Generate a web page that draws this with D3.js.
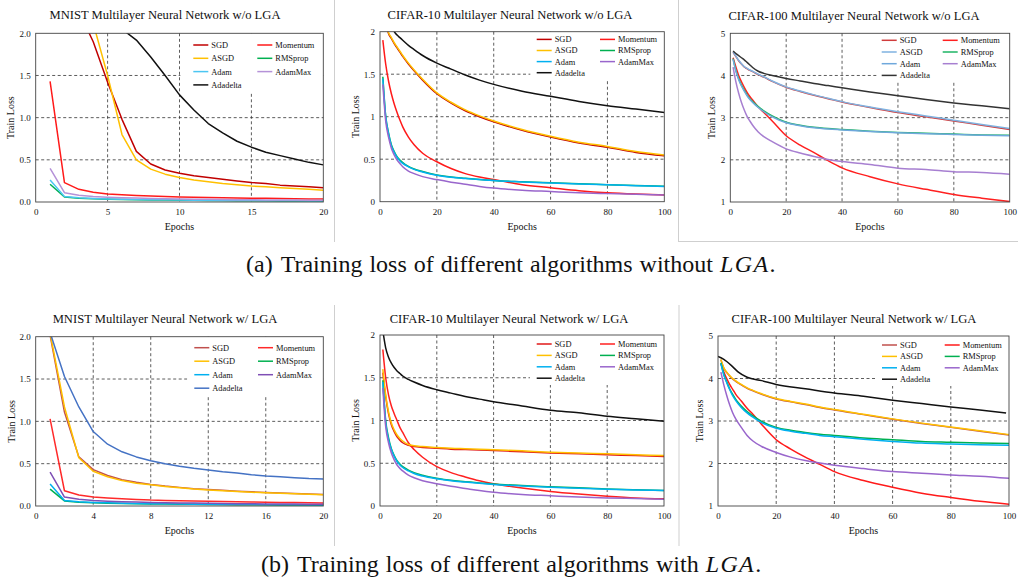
<!DOCTYPE html>
<html lang="en">
<head>
<meta charset="UTF-8">
<title>Training loss with and without LGA</title>
<style>
  body { margin: 0; background: #fff; }
  svg text { font-family: "Liberation Serif", "Times New Roman", serif; fill: #111; white-space: pre; }
</style>
</head>
<body>
<svg id="chart" width="1018" height="577"></svg>
<script src="https://d3js.org/d3.v7.min.js"></script>
<script>
// ---- data ----
const seriesNames = ["SGD", "Momentum", "ASGD", "RMSprop", "Adam", "AdamMax", "Adadelta"];

const mnistEpochs = [1, 2, 3, 4, 5, 6, 7, 8, 9, 10, 11, 12, 13, 14, 15, 16, 17, 18, 19, 20];
const cifarEpochs = [1, 2, 3, 4, 5, 6, 7, 8, 10, 12, 15, 20, 25, 30, 35, 40, 50, 60, 70, 80, 90, 100];
const c100LgaAdadeltaEpochs = [0, 2, 3, 5, 7, 10, 15, 20, 30, 40, 50, 60, 70, 80, 90, 99];

const mnistTicksA = [0, 5, 10, 15, 20];
const mnistTicksB = [0, 4, 8, 12, 16, 20];
const cifarTicks = [0, 20, 40, 60, 80, 100];
const lossTicks2 = [0, 0.5, 1, 1.5, 2];
const lossTicks5 = [1, 2, 3, 4, 5];

// (a) MNIST without LGA
const mnistNoLga = {
  SGD:      [2.30, 2.29, 2.26, 1.90, 1.42, 0.98, 0.60, 0.45, 0.38, 0.34, 0.31, 0.29, 0.27, 0.25, 0.23, 0.22, 0.20, 0.19, 0.18, 0.17],
  Momentum: [1.43, 0.23, 0.15, 0.115, 0.095, 0.085, 0.077, 0.07, 0.065, 0.06, 0.056, 0.052, 0.05, 0.047, 0.045, 0.043, 0.041, 0.039, 0.037, 0.035],
  ASGD:     [2.30, 2.30, 2.29, 2.12, 1.50, 0.80, 0.50, 0.39, 0.33, 0.29, 0.26, 0.24, 0.22, 0.205, 0.19, 0.18, 0.17, 0.16, 0.15, 0.14],
  RMSprop:  [0.21, 0.06, 0.045, 0.038, 0.033, 0.03, 0.027, 0.025, 0.023, 0.021, 0.02, 0.018, 0.017, 0.016, 0.015, 0.014, 0.013, 0.012, 0.011, 0.01],
  Adam:     [0.26, 0.065, 0.05, 0.042, 0.037, 0.033, 0.03, 0.028, 0.026, 0.024, 0.022, 0.021, 0.019, 0.018, 0.017, 0.016, 0.015, 0.014, 0.013, 0.012],
  AdamMax:  [0.40, 0.11, 0.08, 0.065, 0.056, 0.05, 0.046, 0.042, 0.039, 0.036, 0.034, 0.032, 0.03, 0.028, 0.027, 0.025, 0.024, 0.023, 0.021, 0.02],
  Adadelta: [2.30, 2.30, 2.29, 2.27, 2.20, 2.05, 1.92, 1.72, 1.50, 1.27, 1.09, 0.93, 0.82, 0.72, 0.65, 0.59, 0.55, 0.51, 0.47, 0.44]
};

// (a) CIFAR-10 without LGA
const c10NoLga = {
  SGD:      [2.29, 2.11, 1.98, 1.92, 1.86, 1.81, 1.76, 1.71, 1.62, 1.54, 1.43, 1.27, 1.16, 1.07, 1.00, 0.94, 0.84, 0.76, 0.69, 0.64, 0.58, 0.54],
  Momentum: [1.90, 1.62, 1.42, 1.27, 1.15, 1.05, 0.96, 0.88, 0.76, 0.67, 0.57, 0.47, 0.39, 0.33, 0.29, 0.26, 0.20, 0.165, 0.13, 0.105, 0.09, 0.08],
  ASGD:     [2.30, 2.12, 1.99, 1.93, 1.87, 1.82, 1.77, 1.72, 1.63, 1.55, 1.44, 1.28, 1.17, 1.08, 1.01, 0.95, 0.85, 0.77, 0.70, 0.65, 0.59, 0.55],
  RMSprop:  [1.47, 1.01, 0.81, 0.67, 0.59, 0.53, 0.49, 0.46, 0.415, 0.385, 0.355, 0.315, 0.29, 0.275, 0.262, 0.25, 0.235, 0.222, 0.21, 0.2, 0.19, 0.182],
  Adam:     [1.45, 1.00, 0.80, 0.66, 0.58, 0.52, 0.48, 0.45, 0.41, 0.38, 0.35, 0.31, 0.287, 0.272, 0.26, 0.248, 0.233, 0.22, 0.208, 0.198, 0.189, 0.18],
  AdamMax:  [1.38, 0.95, 0.76, 0.63, 0.55, 0.49, 0.45, 0.41, 0.36, 0.33, 0.295, 0.26, 0.23, 0.205, 0.18, 0.16, 0.135, 0.12, 0.105, 0.095, 0.087, 0.08],
  Adadelta: [2.30, 2.22, 2.14, 2.07, 2.00, 1.96, 1.93, 1.90, 1.84, 1.79, 1.72, 1.63, 1.56, 1.49, 1.43, 1.38, 1.30, 1.24, 1.18, 1.13, 1.09, 1.05]
};

// (a) CIFAR-100 without LGA
const c100NoLga = {
  SGD:      [4.55, 4.45, 4.35, 4.27, 4.20, 4.16, 4.12, 4.09, 4.02, 3.96, 3.86, 3.72, 3.62, 3.53, 3.45, 3.37, 3.24, 3.12, 3.02, 2.92, 2.82, 2.72],
  Momentum: [4.42, 4.20, 4.00, 3.85, 3.72, 3.60, 3.50, 3.42, 3.25, 3.12, 2.92, 2.57, 2.35, 2.17, 1.98, 1.81, 1.60, 1.43, 1.30, 1.18, 1.09, 1.01],
  ASGD:     [4.56, 4.46, 4.36, 4.28, 4.21, 4.17, 4.13, 4.10, 4.03, 3.97, 3.87, 3.73, 3.63, 3.54, 3.46, 3.38, 3.25, 3.14, 3.04, 2.94, 2.84, 2.74],
  RMSprop:  [4.40, 4.12, 3.92, 3.77, 3.65, 3.54, 3.45, 3.38, 3.26, 3.16, 3.04, 2.89, 2.82, 2.77, 2.74, 2.72, 2.68, 2.65, 2.63, 2.61, 2.59, 2.58],
  Adam:     [4.38, 4.10, 3.90, 3.75, 3.63, 3.52, 3.43, 3.36, 3.24, 3.14, 3.02, 2.88, 2.81, 2.76, 2.73, 2.71, 2.67, 2.64, 2.62, 2.60, 2.58, 2.57],
  AdamMax:  [4.20, 3.85, 3.58, 3.36, 3.18, 3.03, 2.92, 2.82, 2.66, 2.55, 2.43, 2.26, 2.16, 2.08, 2.01, 1.96, 1.89, 1.80, 1.77, 1.72, 1.70, 1.66],
  Adadelta: [4.58, 4.52, 4.47, 4.42, 4.37, 4.31, 4.25, 4.19, 4.10, 4.05, 4.00, 3.93, 3.87, 3.81, 3.76, 3.71, 3.61, 3.52, 3.43, 3.35, 3.28, 3.21]
};

// (b) MNIST with LGA
const mnistLga = {
  SGD:      [2.02, 1.11, 0.58, 0.43, 0.36, 0.31, 0.28, 0.255, 0.235, 0.22, 0.205, 0.195, 0.185, 0.175, 0.167, 0.16, 0.153, 0.147, 0.141, 0.135],
  Momentum: [1.03, 0.18, 0.13, 0.105, 0.095, 0.085, 0.078, 0.07, 0.066, 0.062, 0.058, 0.055, 0.052, 0.05, 0.047, 0.045, 0.042, 0.04, 0.038, 0.035],
  ASGD:     [2.04, 1.17, 0.57, 0.41, 0.345, 0.30, 0.27, 0.25, 0.23, 0.215, 0.20, 0.19, 0.18, 0.171, 0.163, 0.156, 0.15, 0.144, 0.139, 0.134],
  RMSprop:  [0.20, 0.06, 0.045, 0.038, 0.033, 0.03, 0.027, 0.025, 0.023, 0.021, 0.02, 0.018, 0.017, 0.016, 0.015, 0.014, 0.013, 0.012, 0.011, 0.01],
  Adam:     [0.26, 0.065, 0.05, 0.042, 0.037, 0.033, 0.03, 0.028, 0.026, 0.024, 0.022, 0.021, 0.019, 0.018, 0.017, 0.016, 0.015, 0.014, 0.013, 0.012],
  AdamMax:  [0.40, 0.105, 0.08, 0.065, 0.056, 0.05, 0.046, 0.042, 0.039, 0.036, 0.034, 0.032, 0.03, 0.028, 0.027, 0.025, 0.024, 0.023, 0.021, 0.02],
  Adadelta: [2.05, 1.53, 1.17, 0.88, 0.73, 0.64, 0.58, 0.535, 0.50, 0.47, 0.445, 0.425, 0.405, 0.39, 0.37, 0.355, 0.345, 0.335, 0.325, 0.32]
};

// (b) CIFAR-10 with LGA
const c10Lga = {
  SGD:      [1.56, 1.28, 1.08, 0.95, 0.87, 0.81, 0.77, 0.74, 0.71, 0.695, 0.685, 0.675, 0.665, 0.66, 0.655, 0.648, 0.635, 0.62, 0.61, 0.60, 0.59, 0.58],
  Momentum: [1.83, 1.50, 1.30, 1.17, 1.08, 1.00, 0.92, 0.86, 0.74, 0.66, 0.57, 0.46, 0.39, 0.34, 0.295, 0.26, 0.21, 0.17, 0.14, 0.115, 0.095, 0.085],
  ASGD:     [1.60, 1.30, 1.10, 0.97, 0.89, 0.83, 0.79, 0.76, 0.72, 0.705, 0.695, 0.685, 0.675, 0.67, 0.665, 0.658, 0.645, 0.63, 0.62, 0.61, 0.60, 0.59],
  RMSprop:  [1.47, 1.00, 0.80, 0.67, 0.59, 0.53, 0.49, 0.46, 0.42, 0.39, 0.36, 0.325, 0.30, 0.285, 0.27, 0.258, 0.24, 0.225, 0.212, 0.20, 0.19, 0.182],
  Adam:     [1.45, 0.98, 0.78, 0.66, 0.58, 0.52, 0.48, 0.45, 0.41, 0.38, 0.35, 0.318, 0.295, 0.28, 0.265, 0.252, 0.235, 0.22, 0.208, 0.197, 0.188, 0.18],
  AdamMax:  [1.38, 0.93, 0.74, 0.62, 0.54, 0.48, 0.44, 0.41, 0.36, 0.33, 0.295, 0.26, 0.23, 0.205, 0.18, 0.16, 0.135, 0.12, 0.105, 0.095, 0.087, 0.08],
  Adadelta: [2.05, 1.85, 1.74, 1.67, 1.62, 1.58, 1.55, 1.52, 1.48, 1.45, 1.41, 1.36, 1.32, 1.28, 1.25, 1.22, 1.17, 1.12, 1.09, 1.05, 1.02, 0.99]
};

// (b) CIFAR-100 with LGA
const c100Lga = {
  SGD:      [4.44, 4.24, 4.14, 4.06, 3.99, 3.94, 3.89, 3.85, 3.77, 3.71, 3.63, 3.52, 3.45, 3.39, 3.32, 3.26, 3.15, 3.04, 2.94, 2.85, 2.76, 2.67],
  Momentum: [4.35, 4.15, 4.00, 3.86, 3.75, 3.64, 3.55, 3.47, 3.30, 3.16, 2.92, 2.56, 2.34, 2.15, 1.98, 1.81, 1.60, 1.44, 1.30, 1.20, 1.11, 1.04],
  ASGD:     [4.45, 4.25, 4.15, 4.07, 4.00, 3.95, 3.90, 3.86, 3.78, 3.72, 3.64, 3.53, 3.46, 3.40, 3.33, 3.27, 3.16, 3.05, 2.95, 2.86, 2.77, 2.68],
  RMSprop:  [4.37, 4.10, 3.92, 3.76, 3.63, 3.52, 3.43, 3.35, 3.22, 3.12, 2.99, 2.85, 2.78, 2.73, 2.69, 2.66, 2.60, 2.56, 2.52, 2.50, 2.48, 2.47],
  Adam:     [4.35, 4.08, 3.90, 3.74, 3.60, 3.49, 3.40, 3.32, 3.19, 3.09, 2.96, 2.83, 2.76, 2.71, 2.66, 2.63, 2.57, 2.52, 2.48, 2.46, 2.44, 2.43],
  AdamMax:  [4.15, 3.85, 3.60, 3.38, 3.20, 3.06, 2.95, 2.85, 2.66, 2.53, 2.40, 2.26, 2.15, 2.07, 2.01, 1.96, 1.88, 1.81, 1.77, 1.73, 1.70, 1.65],
  Adadelta: [4.52, 4.45, 4.40, 4.28, 4.15, 4.03, 3.95, 3.86, 3.76, 3.66, 3.58, 3.49, 3.41, 3.33, 3.26, 3.19]
};

// ---- colours ----
const colorsA = { SGD: "#c00000", Momentum: "#ff1a1a", ASGD: "#ffc000", RMSprop: "#00b050", Adam: "#4cc6f2", AdamMax: "#b592d8", Adadelta: "#111111" };
const colorsB = { SGD: "#c00000", Momentum: "#ff1a1a", ASGD: "#ffc000", RMSprop: "#00b050", Adam: "#00b0f0", AdamMax: "#9966cc", Adadelta: "#111111" };
const colorsC = { SGD: "#d03c3c", Momentum: "#ff2020", ASGD: "#7fb2e0", RMSprop: "#1eb464", Adam: "#6fa8dc", AdamMax: "#a77fd1", Adadelta: "#333333" };
const colorsD = { SGD: "#c0504d", Momentum: "#ff2a2a", ASGD: "#ffc000", RMSprop: "#00b050", Adam: "#00b0f0", AdamMax: "#7f4fb5", Adadelta: "#4472c4" };
const colorsE = { SGD: "#e01818", Momentum: "#ff2020", ASGD: "#ffc000", RMSprop: "#00b050", Adam: "#00b0f0", AdamMax: "#9966cc", Adadelta: "#111111" };
const colorsF = { SGD: "#c0504d", Momentum: "#ff1a1a", ASGD: "#ffc000", RMSprop: "#00b050", Adam: "#00b0f0", AdamMax: "#9966cc", Adadelta: "#111111" };

const fmt1 = d3.format(".1f");
const fmtPlain = d => String(d);

const panels = [
  { title: "MNIST Multilayer Neural Network w/o LGA", data: mnistNoLga, epochs: mnistEpochs, xTicks: mnistTicksA, yTicks: lossTicks2,
    yDomain: [0, 2], yFmt: fmt1, colors: colorsA, smooth: false,
    left: 35.7, right: 323.3, top: 33.3, bottom: 202, titleX: 165, titleY: 19, ylabX: 14,
    leg: { w: 143, h: 60, c1: 130, c2: 66, row0: 11.7, step: 13.3 } },
  { title: "CIFAR-10 Multilayer Neural Network w/o LGA", data: c10NoLga, epochs: cifarEpochs, xTicks: cifarTicks, yTicks: lossTicks2,
    yDomain: [0, 2], yFmt: fmtPlain, colors: colorsB, smooth: true,
    left: 380, right: 664.3, top: 31.7, bottom: 201.7, titleX: 510, titleY: 18.5, ylabX: 358.5,
    leg: { w: 134, h: 48, c1: 127.6, c2: 64.3, row0: 7.7, step: 11.1 } },
  { title: "CIFAR-100 Multilayer Neural Network w/o LGA", data: c100NoLga, epochs: cifarEpochs, xTicks: cifarTicks, yTicks: lossTicks5,
    yDomain: [1, 5], yFmt: fmtPlain, colors: colorsC, smooth: true,
    left: 730.3, right: 1009.7, top: 33.3, bottom: 202, titleX: 854, titleY: 20, ylabX: 714.5,
    leg: { w: 132, h: 48, c1: 128, c2: 67, row0: 7, step: 11.7 } },
  { title: "MNIST Multilayer Neural Network w/ LGA", data: mnistLga, epochs: mnistEpochs, xTicks: mnistTicksB, yTicks: lossTicks2,
    yDomain: [0, 2], yFmt: fmt1, colors: colorsD, smooth: false,
    left: 35.7, right: 323.3, top: 336.7, bottom: 506, titleX: 165, titleY: 323, ylabX: 15,
    leg: { w: 136, h: 59, c1: 129, c2: 65.3, row0: 11, step: 13.5 } },
  { title: "CIFAR-10 Multilayer Neural Network w/ LGA", data: c10Lga, epochs: cifarEpochs, xTicks: cifarTicks, yTicks: lossTicks2,
    yDomain: [0, 2], yFmt: fmtPlain, colors: colorsE, smooth: true,
    left: 380, right: 664, top: 335, bottom: 506, titleX: 509, titleY: 322.7, ylabX: 358.5,
    leg: { w: 134, h: 50, c1: 127.3, c2: 64, row0: 9, step: 11.4 } },
  { title: "CIFAR-100 Multilayer Neural Network w/ LGA", data: c100Lga, epochs: cifarEpochs, xTicks: cifarTicks, yTicks: lossTicks5,
    yDomain: [1, 5], yFmt: fmtPlain, colors: colorsF, smooth: true, epochsFor: { Adadelta: c100LgaAdadeltaEpochs },
    left: 718, right: 1009, top: 336, bottom: 506, titleX: 854, titleY: 323.3, ylabX: 703,
    leg: { w: 134, h: 50, c1: 127, c2: 64.3, row0: 9, step: 11.4 } }
];

const svg = d3.select("#chart");

// light grey frames round the sub-figures
const sep = svg.append("g").attr("stroke", "#cfcfcf").attr("stroke-width", 1);
sep.append("line").attr("x1", 334.5).attr("x2", 334.5).attr("y1", 0).attr("y2", 242);
sep.append("line").attr("x1", 678.5).attr("x2", 678.5).attr("y1", 0).attr("y2", 242);
sep.append("line").attr("x1", 679).attr("x2", 1018).attr("y1", 241.5).attr("y2", 241.5);
sep.append("line").attr("x1", 334.5).attr("x2", 334.5).attr("y1", 305).attr("y2", 546);
sep.append("line").attr("x1", 679).attr("x2", 679).attr("y1", 305).attr("y2", 546);

panels.forEach((p, i) => {
  const x = d3.scaleLinear().domain([0, p.xTicks[p.xTicks.length - 1]]).range([p.left, p.right]);
  const y = d3.scaleLinear().domain(p.yDomain).range([p.bottom, p.top]);
  const g = svg.append("g");

  const clipId = "clip" + i;
  svg.append("clipPath").attr("id", clipId).append("rect")
    .attr("x", p.left).attr("y", p.top)
    .attr("width", p.right - p.left).attr("height", p.bottom - p.top);

  // dashed grid
  const grid = g.append("g").attr("stroke", "#333").attr("stroke-width", 0.8).attr("stroke-dasharray", "3,2.5");
  grid.selectAll(".vx").data(p.xTicks.slice(1, -1)).join("line")
    .attr("x1", d => x(d)).attr("x2", d => x(d)).attr("y1", p.top).attr("y2", p.bottom);
  grid.selectAll(".hy").data(p.yTicks.slice(1, -1)).join("line")
    .attr("x1", p.left).attr("x2", p.right).attr("y1", d => y(d)).attr("y2", d => y(d));

  // legend background hides the grid behind it
  g.append("rect").attr("x", p.right - p.leg.w).attr("y", p.top)
    .attr("width", p.leg.w).attr("height", p.leg.h).attr("fill", "#fff");

  // curves
  const line = d3.line()
    .defined(d => d[1] != null)
    .x(d => x(d[0])).y(d => y(d[1]))
    .curve(p.smooth ? d3.curveMonotoneX : d3.curveLinear);
  const lines = g.append("g").attr("clip-path", `url(#${clipId})`);
  seriesNames.forEach(name => {
    const ep = (p.epochsFor && p.epochsFor[name]) || p.epochs;
    const pts = p.data[name].map((v, k) => [ep[k], v]);
    lines.append("path").datum(pts)
      .attr("d", line)
      .attr("fill", "none")
      .attr("stroke", p.colors[name])
      .attr("stroke-width", 1.5)
      .attr("stroke-linejoin", "round");
  });

  // frame
  g.append("rect").attr("x", p.left).attr("y", p.top)
    .attr("width", p.right - p.left).attr("height", p.bottom - p.top)
    .attr("fill", "none").attr("stroke", "#444").attr("stroke-width", 0.9);

  // axes
  const xAxis = g.append("g").attr("transform", `translate(0,${p.bottom})`)
    .call(d3.axisBottom(x).tickValues(p.xTicks).tickSize(0).tickPadding(6.5).tickFormat(fmtPlain));
  const yAxis = g.append("g").attr("transform", `translate(${p.left},0)`)
    .call(d3.axisLeft(y).tickValues(p.yTicks).tickSize(0).tickPadding(5).tickFormat(p.yFmt));
  [xAxis, yAxis].forEach(a => {
    a.select(".domain").remove();
    a.selectAll("text").attr("font-family", "Liberation Serif, serif").attr("font-size", 9).attr("fill", "#222");
  });

  // titles and axis labels
  g.append("text").attr("x", p.titleX).attr("y", p.titleY)
    .attr("text-anchor", "middle").attr("font-size", 12.6).text(p.title);
  g.append("text").attr("x", (p.left + p.right) / 2).attr("y", p.bottom + 28)
    .attr("text-anchor", "middle").attr("font-size", 10).text("Epochs");
  g.append("text")
    .attr("transform", `translate(${p.ylabX},${(p.top + p.bottom) / 2}) rotate(-90)`)
    .attr("text-anchor", "middle").attr("font-size", 10).text("Train Loss");

  // legend
  const leg = g.append("g");
  seriesNames.forEach((name, k) => {
    const lx = p.right - (k % 2 === 0 ? p.leg.c1 : p.leg.c2);
    const ly = p.top + p.leg.row0 + Math.floor(k / 2) * p.leg.step;
    leg.append("line").attr("x1", lx).attr("x2", lx + 15).attr("y1", ly).attr("y2", ly)
      .attr("stroke", p.colors[name]).attr("stroke-width", 1.5);
    leg.append("text").attr("x", lx + 18).attr("y", ly).attr("dy", "0.35em")
      .attr("font-size", 8.4).text(name);
  });
});

// sub-figure captions
function caption(x, y, tag, body) {
  const t = svg.append("text").attr("x", x).attr("y", y).attr("font-size", 24).attr("word-spacing", 1);
  t.append("tspan").text(tag);
  t.append("tspan").attr("dx", 8).text(body);
  t.append("tspan").attr("font-style", "italic").attr("letter-spacing", 1.4).text("LGA");
  t.append("tspan").text(".");
}
caption(246, 272, "(a)", "Training loss of different algorithms without ");
caption(261, 572, "(b)", "Training loss of different algorithms with ");
</script>
</body>
</html>
